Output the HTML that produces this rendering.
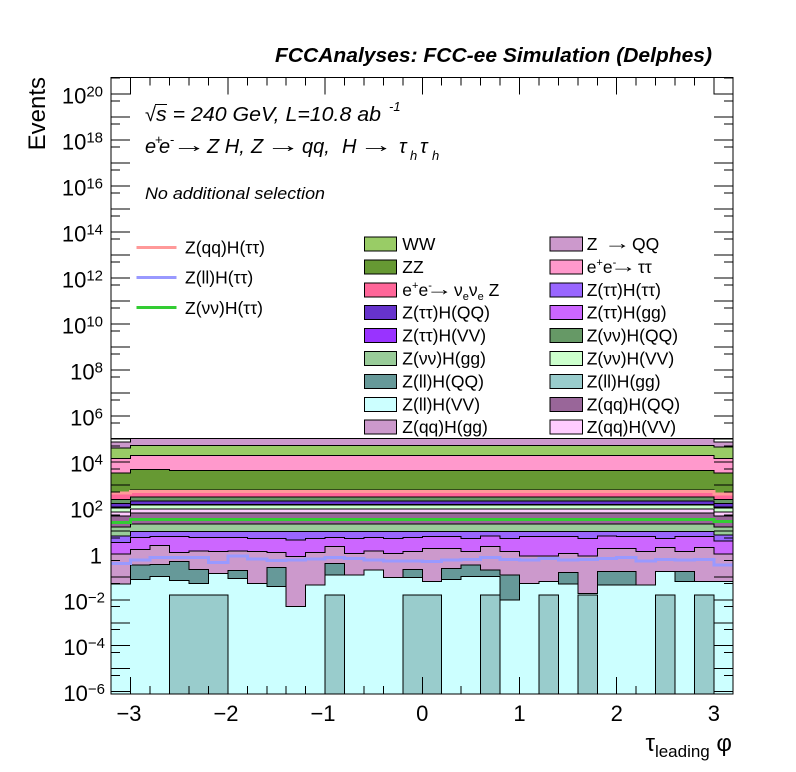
<!DOCTYPE html>
<html><head><meta charset="utf-8">
<style>
html,body{margin:0;padding:0;background:#fff;}
svg{display:block;}
text{font-family:"Liberation Sans","DejaVu Sans",sans-serif;fill:#000;}
.ar{font-family:"Liberation Sans","DejaVu Sans",sans-serif;font-style:normal;}
</style></head>
<body>
<svg width="796" height="772" viewBox="0 0 796 772" xmlns="http://www.w3.org/2000/svg">
<rect x="0" y="0" width="796" height="772" fill="#fff"/>

<g stroke="#000" stroke-width="1" shape-rendering="crispEdges">
<path fill="#cc99cc" d="M111,694 V442 H130.7 V438.5 H713.9 V442 H733 V694 Z"/>
<path fill="#99cc66" d="M111,694 V448 H130.7 V445.3 H713.9 V447 H733 V694 Z"/>
<path fill="#ff99cc" d="M111,694 V458.5 H130.7 V455.7 H713.9 V458.5 H733 V694 Z"/>
<path fill="#669933" d="M111,694 V473 H130.7 V469.5 H169.58 V470.3 H713.9 V473 H733 V694 Z"/>
<path fill="#ff6699" d="M111,694 V493 H130.7 V490 H713.9 V493.5 H733 V694 Z"/>
<path fill="#669966" d="M111,694 V499.5 H130.7 V496.8 H713.9 V499.5 H733 V694 Z"/>
<path fill="#6633cc" d="M111,694 V503.5 H130.7 V500.8 H713.9 V503.5 H733 V694 Z"/>
<path fill="#9933ff" d="M111,694 V507 H130.7 V504.3 H713.9 V507 H733 V694 Z"/>
<path fill="#ccffcc" d="M111,694 V507.7 H130.7 V505 H713.9 V507.7 H733 V694 Z"/>
<path fill="#ffccff" d="M111,694 V512 H130.7 V508.8 H713.9 V512 H733 V694 Z"/>
<path fill="#996699" d="M111,694 V516 H130.7 V513 H713.9 V516 H733 V694 Z"/>
<path fill="#99cc99" d="M111,694 V527 H130.7 V524 H713.9 V527 H733 V694 Z"/>
<path fill="#9966ff" d="M111,694 V536 H130.7 V531.7 H713.9 V535 H733 V694 Z"/>
<path fill="#cc66ff" d="M111,694 V542.7 H130.7 V537.3 H150.14 V536.7 H169.58 V536.7 H189.02 V537.3 H208.46 V537.3 H227.9 V537.3 H247.34 V538.3 H266.78 V538.3 H286.22 V540 H305.66 V538.3 H325.1 V537.3 H344.54 V538.3 H363.98 V537.3 H383.42 V538.3 H402.86 V537.3 H422.3 V536.7 H441.74 V536.7 H461.18 V538.3 H480.62 V536 H500.06 V538.3 H519.5 V536.7 H538.94 V536.7 H558.38 V536.7 H577.82 V538.3 H597.26 V536 H616.7 V536.7 H636.14 V536.7 H655.58 V538.3 H675.02 V536.7 H694.46 V536.7 H713.9 V541 H733 V694 Z"/>
<path fill="#cc99cc" d="M111,694 V554 H130.7 V549.3 H150.14 V545.7 H169.58 V552.3 H189.02 V551 H208.46 V551.7 H227.9 V551 H247.34 V551.7 H266.78 V552.3 H286.22 V556.7 H305.66 V552.3 H325.1 V546.7 H344.54 V553.3 H363.98 V551 H383.42 V553.3 H402.86 V551.7 H422.3 V548.3 H441.74 V548.3 H461.18 V551.7 H480.62 V546.7 H500.06 V551.7 H519.5 V556 H538.94 V556 H558.38 V553.3 H577.82 V556 H597.26 V548.3 H616.7 V548.3 H636.14 V551.7 H655.58 V547.3 H675.02 V551.7 H694.46 V547.3 H713.9 V554 H733 V694 Z"/>
<path fill="#669999" d="M111,694 V584 H130.7 V565 H150.14 V564.3 H169.58 V561.7 H189.02 V569.3 H208.46 V573.3 H227.9 V570.7 H247.34 V583.3 H266.78 V567.3 H286.22 V606.7 H305.66 V585 H325.1 V563.3 H344.54 V575 H363.98 V570 H383.42 V577.7 H402.86 V569.3 H422.3 V581.7 H441.74 V568.3 H461.18 V565 H480.62 V570 H500.06 V575 H519.5 V583.3 H538.94 V581.7 H558.38 V572.7 H577.82 V593.3 H597.26 V571.7 H616.7 V571.7 H636.14 V585 H655.58 V571.7 H675.02 V571.7 H694.46 V581.7 H713.9 V581.7 H733 V694 Z"/>
<path fill="#ccffff" d="M111,694 V584 H130.7 V579.3 H150.14 V576.7 H169.58 V580.7 H189.02 V583.3 H208.46 V573.3 H227.9 V578.3 H247.34 V583.3 H266.78 V586.7 H286.22 V606.7 H305.66 V585 H325.1 V575 H344.54 V575 H363.98 V570 H383.42 V577.7 H402.86 V577.7 H422.3 V581.7 H441.74 V579.3 H461.18 V576.7 H480.62 V576.7 H500.06 V600 H519.5 V583.3 H538.94 V581.7 H558.38 V584 H577.82 V593.3 H597.26 V585 H616.7 V585 H636.14 V585 H655.58 V571.7 H675.02 V581.7 H694.46 V581.7 H713.9 V581.7 H733 V694 Z"/>
<g fill="#99cccc">
<rect x="169.58" y="595" width="58.32" height="99"/>
<rect x="325.1" y="595" width="19.44" height="99"/>
<rect x="402.86" y="595" width="38.88" height="99"/>
<rect x="480.62" y="595" width="19.44" height="99"/>
<rect x="538.94" y="595" width="19.44" height="99"/>
<rect x="577.82" y="595" width="19.44" height="99"/>
<rect x="655.58" y="595" width="19.44" height="99"/>
<rect x="694.46" y="595" width="19.44" height="99"/>
</g>
</g>

<g fill="none" stroke-width="3" shape-rendering="crispEdges">
<path stroke="#ff9999" d="M111,493 H130.7 V491.3 H713.9 V494 H733"/>
<path stroke="#33cc33" d="M111,522.5 H130.7 V519.5 H713.9 V521.7 H733"/>
<path stroke="#9999ff" d="M111,563.3 H130.7 V560 H150.14 V557.3 H169.58 V557.3 H189.02 V557.3 H208.46 V562.3 H227.9 V556 H247.34 V559 H266.78 V560.7 H286.22 V560 H305.66 V559 H325.1 V557.3 H344.54 V558.3 H363.98 V560 H383.42 V561 H402.86 V561 H422.3 V561.7 H441.74 V560 H461.18 V559.3 H480.62 V557.7 H500.06 V559.3 H519.5 V560 H538.94 V558.3 H558.38 V560 H577.82 V559.3 H597.26 V558.3 H616.7 V557.7 H636.14 V561 H655.58 V559.3 H675.02 V560 H694.46 V559.3 H713.9 V565 H733"/>
</g>

<path d="M111,438.5 H357.5 M360,438.5 H733" stroke="#000" stroke-width="1" fill="none" shape-rendering="crispEdges"/>

<g stroke="#000" stroke-width="1" fill="none" shape-rendering="crispEdges">
<rect x="111" y="77.5" width="622" height="616.5"/>
<path d="M130.7,694V677M227.9,694V677M325.1,694V677M422.3,694V677M519.5,694V677M616.7,694V677M713.9,694V677
M130.7,77.5V94.5M227.9,77.5V94.5M325.1,77.5V94.5M422.3,77.5V94.5M519.5,77.5V94.5M616.7,77.5V94.5M713.9,77.5V94.5"/>
<path d="M150.14,694V686M169.58,694V686M189.02,694V686M208.46,694V686M247.34,694V686M266.78,694V686M286.22,694V686M305.66,694V686M344.54,694V686M363.98,694V686M383.42,694V686M402.86,694V686M441.74,694V686M461.18,694V686M480.62,694V686M500.06,694V686M538.94,694V686M558.38,694V686M577.82,694V686M597.26,694V686M636.14,694V686M655.58,694V686M675.02,694V686M694.46,694V686
M150.14,77.5V85.5M169.58,77.5V85.5M189.02,77.5V85.5M208.46,77.5V85.5M247.34,77.5V85.5M266.78,77.5V85.5M286.22,77.5V85.5M305.66,77.5V85.5M344.54,77.5V85.5M363.98,77.5V85.5M383.42,77.5V85.5M402.86,77.5V85.5M441.74,77.5V85.5M461.18,77.5V85.5M480.62,77.5V85.5M500.06,77.5V85.5M538.94,77.5V85.5M558.38,77.5V85.5M577.82,77.5V85.5M597.26,77.5V85.5M636.14,77.5V85.5M655.58,77.5V85.5M675.02,77.5V85.5M694.46,77.5V85.5"/>
<path d="M111,691.7H130M111,668.72H130M111,645.74H130M111,622.76H130M111,599.78H130M111,576.8H130M111,553.82H130M111,530.84H130M111,507.86H130M111,484.88H130M111,461.9H130M111,438.92H130M111,415.94H130M111,392.96H130M111,369.98H130M111,347H130M111,324.02H130M111,301.04H130M111,278.06H130M111,255.08H130M111,232.1H130M111,209.12H130M111,186.14H130M111,163.16H130M111,140.18H130M111,117.2H130M111,94.22H130
M733,691.7H714M733,668.72H714M733,645.74H714M733,622.76H714M733,599.78H714M733,576.8H714M733,553.82H714M733,530.84H714M733,507.86H714M733,484.88H714M733,461.9H714M733,438.92H714M733,415.94H714M733,392.96H714M733,369.98H714M733,347H714M733,324.02H714M733,301.04H714M733,278.06H714M733,255.08H714M733,232.1H714M733,209.12H714M733,186.14H714M733,163.16H714M733,140.18H714M733,117.2H714M733,94.22H714"/>
<path d="M111,675.64H120M111,652.66H120M111,629.68H120M111,606.7H120M111,583.72H120M111,560.74H120M111,537.76H120M111,514.78H120M111,491.8H120M111,468.82H120M111,445.84H120M111,422.86H120M111,399.88H120M111,376.9H120M111,353.92H120M111,330.94H120M111,307.96H120M111,284.98H120M111,262H120M111,239.02H120M111,216.04H120M111,193.06H120M111,170.08H120M111,147.1H120M111,124.12H120M111,101.14H120M111,78.16H120
M733,675.64H724M733,652.66H724M733,629.68H724M733,606.7H724M733,583.72H724M733,560.74H724M733,537.76H724M733,514.78H724M733,491.8H724M733,468.82H724M733,445.84H724M733,422.86H724M733,399.88H724M733,376.9H724M733,353.92H724M733,330.94H724M733,307.96H724M733,284.98H724M733,262H724M733,239.02H724M733,216.04H724M733,193.06H724M733,170.08H724M733,147.1H724M733,124.12H724M733,101.14H724M733,78.16H724"/>
</g>

<g font-size="22" text-anchor="middle">
<text x="129" y="721">−3</text>
<text x="226" y="721">−2</text>
<text x="323" y="721">−1</text>
<text x="422.3" y="721">0</text>
<text x="519.5" y="721">1</text>
<text x="616.7" y="721">2</text>
<text x="713.9" y="721">3</text>
</g>

<g font-size="22" text-anchor="end">
<text x="103" y="103.7">10<tspan font-size="15" dy="-7">20</tspan></text>
<text x="103" y="149.7">10<tspan font-size="15" dy="-7">18</tspan></text>
<text x="103" y="195.6">10<tspan font-size="15" dy="-7">16</tspan></text>
<text x="103" y="241.6">10<tspan font-size="15" dy="-7">14</tspan></text>
<text x="103" y="287.6">10<tspan font-size="15" dy="-7">12</tspan></text>
<text x="103" y="333.5">10<tspan font-size="15" dy="-7">10</tspan></text>
<text x="103" y="379.5">10<tspan font-size="15" dy="-7">8</tspan></text>
<text x="103" y="425.4">10<tspan font-size="15" dy="-7">6</tspan></text>
<text x="103" y="471.4">10<tspan font-size="15" dy="-7">4</tspan></text>
<text x="103" y="517.4">10<tspan font-size="15" dy="-7">2</tspan></text>
<text x="102" y="563.3">1</text>
<text x="105" y="609.3">10<tspan font-size="15" dy="-7">−2</tspan></text>
<text x="105" y="655.2">10<tspan font-size="15" dy="-7">−4</tspan></text>
<text x="105" y="701.2">10<tspan font-size="15" dy="-7">−6</tspan></text>
</g>

<text transform="translate(45,77) rotate(-90)" font-size="24" text-anchor="end">Events</text>
<text x="732" y="751" font-size="24" text-anchor="end">τ<tspan font-size="17" dy="6">leading</tspan><tspan dy="-6"> φ</tspan></text>

<text x="275" y="62" font-size="20" font-weight="bold" font-style="italic" textLength="437" lengthAdjust="spacingAndGlyphs">FCCAnalyses: FCC-ee Simulation (Delphes)</text>

<text x="145" y="121" font-size="20">√</text>
<line x1="155" y1="104.5" x2="167" y2="104.5" stroke="#000" stroke-width="1"/>
<text x="156" y="121" font-size="20" font-style="italic" textLength="225" lengthAdjust="spacingAndGlyphs">s = 240 GeV, L=10.8 ab</text>
<text x="389" y="111" font-size="13" font-style="italic">-1</text>

<g font-size="20" font-style="italic">
<text x="145" y="153">e</text>
<text x="155" y="144" font-size="13" font-style="normal">+</text>
<text x="159" y="153">e</text>
<text x="170" y="144" font-size="13" font-style="normal">-</text>
<text class="ar" transform="translate(172,152) scale(1.65,1)" font-size="21">→</text>
<text x="207" y="153">Z H,</text>
<text x="251" y="153">Z</text>
<text class="ar" transform="translate(266,152) scale(1.65,1)" font-size="21">→</text>
<text x="302" y="153">qq,</text>
<text x="342" y="153">H</text>
<text class="ar" transform="translate(359,152) scale(1.65,1)" font-size="21">→</text>
<text x="399" y="153">τ</text>
<text x="410" y="160" font-size="13">h</text>
<text x="420" y="153">τ</text>
<text x="432" y="160" font-size="13">h</text>
</g>
<text x="145" y="199" font-size="16.5" font-style="italic" textLength="180" lengthAdjust="spacingAndGlyphs">No additional selection</text>

<g stroke-width="3" shape-rendering="crispEdges">
<line x1="136.7" y1="247.3" x2="176.7" y2="247.3" stroke="#ff9999"/>
<line x1="136.7" y1="277.3" x2="176.7" y2="277.3" stroke="#9999ff"/>
<line x1="136.7" y1="307.7" x2="176.7" y2="307.7" stroke="#33cc33"/>
</g>
<g font-size="17.5">
<text x="185" y="253.5">Z(qq)H(ττ)</text>
<text x="185" y="283.5">Z(ll)H(ττ)</text>
<text x="185" y="314">Z(νν)H(ττ)</text>
</g>

<g stroke="#000" stroke-width="1" shape-rendering="crispEdges">
<rect x="364.3" y="237" width="32.4" height="14" fill="#99cc66"/>
<rect x="364.3" y="259.9" width="32.4" height="14" fill="#669933"/>
<rect x="364.3" y="282.8" width="32.4" height="14" fill="#ff6699"/>
<rect x="364.3" y="305.7" width="32.4" height="14" fill="#6633cc"/>
<rect x="364.3" y="328.6" width="32.4" height="14" fill="#9933ff"/>
<rect x="364.3" y="351.5" width="32.4" height="14" fill="#99cc99"/>
<rect x="364.3" y="374.4" width="32.4" height="14" fill="#669999"/>
<rect x="364.3" y="397.3" width="32.4" height="14" fill="#ccffff"/>
<rect x="364.3" y="420.2" width="32.4" height="14" fill="#cc99cc"/>
<rect x="550" y="237" width="32.7" height="14" fill="#cc99cc"/>
<rect x="550" y="259.9" width="32.7" height="14" fill="#ff99cc"/>
<rect x="550" y="282.8" width="32.7" height="14" fill="#9966ff"/>
<rect x="550" y="305.7" width="32.7" height="14" fill="#cc66ff"/>
<rect x="550" y="328.6" width="32.7" height="14" fill="#669966"/>
<rect x="550" y="351.5" width="32.7" height="14" fill="#ccffcc"/>
<rect x="550" y="374.4" width="32.7" height="14" fill="#99cccc"/>
<rect x="550" y="397.3" width="32.7" height="14" fill="#996699"/>
<rect x="550" y="420.2" width="32.7" height="14" fill="#ffccff"/>
</g>
<g font-size="17.5">
<text x="402.3" y="250">WW</text>
<text x="402.3" y="272.9">ZZ</text>
<text x="402.3" y="295.8">e<tspan font-size="11" dy="-7">+</tspan><tspan dy="7">e</tspan><tspan font-size="11" dy="-7">-</tspan></text>
<text class="ar" transform="translate(426,295) scale(1.5,1)" font-size="18">→</text>
<text x="454" y="295.8">ν<tspan font-size="11" dy="4">e</tspan><tspan dy="-4">ν</tspan><tspan font-size="11" dy="4">e</tspan><tspan dy="-4"> Z</tspan></text>
<text x="402.3" y="318.7">Z(ττ)H(QQ)</text>
<text x="402.3" y="341.6">Z(ττ)H(VV)</text>
<text x="402.3" y="364.5">Z(νν)H(gg)</text>
<text x="402.3" y="387.4">Z(ll)H(QQ)</text>
<text x="402.3" y="410.3">Z(ll)H(VV)</text>
<text x="402.3" y="433.2">Z(qq)H(gg)</text>
<text x="586.7" y="250">Z</text>
<text class="ar" transform="translate(604,249) scale(1.5,1)" font-size="18">→</text>
<text x="632" y="250">QQ</text>
<text x="586.7" y="272.9">e<tspan font-size="11" dy="-7">+</tspan><tspan dy="7">e</tspan><tspan font-size="11" dy="-7">-</tspan></text>
<text class="ar" transform="translate(610,272) scale(1.5,1)" font-size="18">→</text>
<text x="638" y="272.9">ττ</text>
<text x="586.7" y="295.8">Z(ττ)H(ττ)</text>
<text x="586.7" y="318.7">Z(ττ)H(gg)</text>
<text x="586.7" y="341.6">Z(νν)H(QQ)</text>
<text x="586.7" y="364.5">Z(νν)H(VV)</text>
<text x="586.7" y="387.4">Z(ll)H(gg)</text>
<text x="586.7" y="410.3">Z(qq)H(QQ)</text>
<text x="586.7" y="433.2">Z(qq)H(VV)</text>
</g>
</svg>
</body></html>
